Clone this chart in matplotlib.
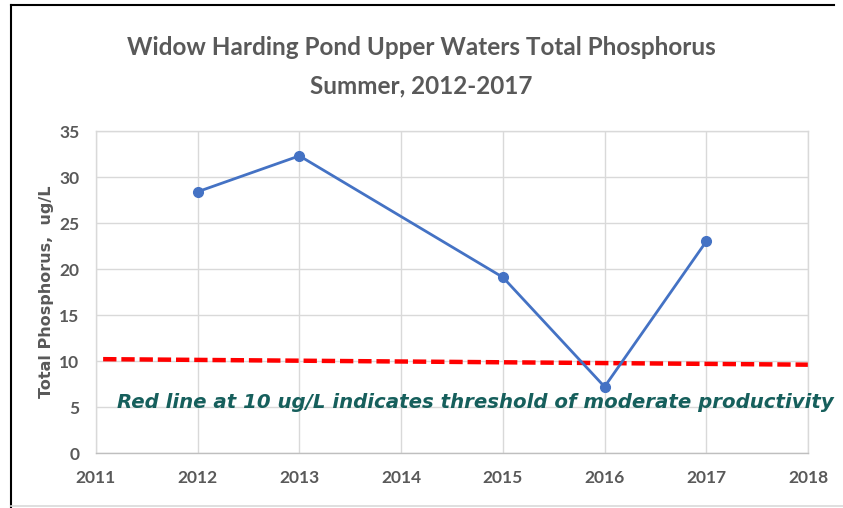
import matplotlib.pyplot as plt
from matplotlib.lines import Line2D

years = [2012, 2013, 2015, 2016, 2017]
phosphorus = [28.4, 32.3, 19.1, 7.2, 23.0]

threshold_x = [2011.07, 2018]
threshold_y = [10.2, 9.6]

x_ticks = [2011, 2012, 2013, 2014, 2015, 2016, 2017, 2018]
y_ticks = [0, 5, 10, 15, 20, 25, 30, 35]

narrow = ['Lato', 'DejaVu Sans']
gray = '#595959'

fig = plt.figure(figsize=(8.43, 5.08), dpi=100)
ax = fig.add_axes([96 / 843, 1 - 453 / 508, 712 / 843, 322 / 508])

ax.plot(years, phosphorus, color='#4472c4', lw=2, marker='o', ms=7, zorder=3)
ax.plot(threshold_x, threshold_y, color='#ff0000', lw=3.2, dashes=(3, 1.1),
        zorder=2)

ax.set_xlim(2011, 2018)
ax.set_ylim(0, 35)
ax.set_xticks(x_ticks)
ax.set_yticks(y_ticks)
ax.grid(color='#d9d9d9', lw=1)
ax.set_axisbelow(True)
for side, sp in ax.spines.items():
    sp.set_color('#d9d9d9')
    sp.set_linewidth(1)
ax.spines['bottom'].set_color('#bfbfbf')
ax.tick_params(length=0, colors=gray, labelsize=12.5, pad=12)
for lab in ax.get_xticklabels() + ax.get_yticklabels():
    lab.set_family(narrow)
    lab.set_fontweight('bold')

ax.set_ylabel('Total Phosphorus,  ug/L', fontsize=11.5, fontweight='bold',
              color=gray, labelpad=4)

fig.text(0.5, 1 - 47 / 508, 'Widow Harding Pond Upper Waters Total Phosphorus',
         ha='center', va='center', fontsize=17.5, fontweight='bold', color=gray,
         family=narrow)
fig.text(0.5, 1 - 86 / 508, 'Summer, 2012-2017', ha='center', va='center',
         fontsize=17.5, fontweight='bold', color=gray, family=narrow)

fig.text(475 / 843, 1 - 402 / 508,
         'Red line at 10 ug/L indicates threshold of moderate productivity',
         ha='center', va='center', fontsize=14.2, fontweight='bold',
         style='italic', color='#165f5c', family='DejaVu Sans')

# outer frame: black left and top, light gray bottom
def frame_line(xs, ys, color, lw):
    fig.add_artist(Line2D([x / 843 for x in xs], [1 - y / 508 for y in ys],
                          transform=fig.transFigure, color=color, lw=lw,
                          clip_on=False))

frame_line((11, 11), (5, 508), 'black', 1.5)
frame_line((11, 834), (5, 5), 'black', 1.5)
frame_line((11, 843), (506, 506), '#d9d9d9', 1.2)

fig.savefig('out.png', dpi=100)
